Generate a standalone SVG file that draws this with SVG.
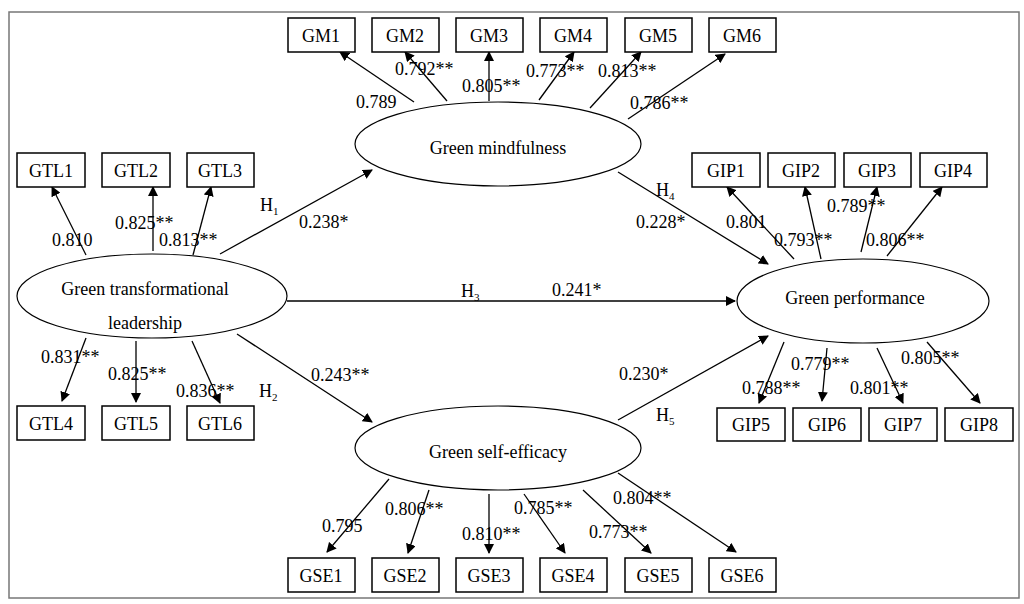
<svg xmlns="http://www.w3.org/2000/svg" width="1024" height="604" viewBox="0 0 1024 604">
<style>
text{font-family:"Liberation Serif","Times New Roman",serif;font-size:18px;fill:#000}
.b rect{fill:#fff;stroke:#000;stroke-width:1.5}
.b text{text-anchor:middle}
.e ellipse{fill:#fff;stroke:#000;stroke-width:1.2}
.e text{text-anchor:middle}
#c line{stroke:#000;stroke-width:1.3;marker-end:url(#a)}
.s{font-size:11px}
</style>
<defs><marker id="a" markerWidth="10" markerHeight="10" refX="9" refY="5" orient="auto" markerUnits="userSpaceOnUse"><path d="M0,0 L10,5 L0,10 Z"/></marker></defs>
<rect width="1024" height="604" fill="#fff"/>
<rect x="9" y="12" width="1010" height="586" fill="none" stroke="#777" stroke-width="1.5"/>
<g id="c">
<line x1="86" y1="255" x2="52" y2="187"/><line x1="153" y1="251" x2="153" y2="187"/><line x1="193" y1="255" x2="211" y2="187"/>
<line x1="220" y1="254" x2="372" y2="170"/>
<line x1="414" y1="102" x2="340" y2="52"/><line x1="447" y1="101" x2="405" y2="52"/><line x1="489" y1="101" x2="489" y2="52"/><line x1="539" y1="100" x2="574" y2="52"/><line x1="590" y1="108" x2="641" y2="52"/><line x1="628" y1="119" x2="725" y2="54"/>
<line x1="618" y1="172" x2="768" y2="264"/>
<line x1="794" y1="259" x2="727" y2="187"/><line x1="821" y1="259" x2="805" y2="187"/><line x1="861" y1="252" x2="877" y2="187"/><line x1="887" y1="256" x2="942" y2="187"/>
<line x1="287" y1="301" x2="735" y2="301"/>
<line x1="86" y1="338" x2="62" y2="401"/><line x1="136" y1="341" x2="136" y2="402"/><line x1="192" y1="341" x2="220" y2="403"/>
<line x1="237" y1="334" x2="372" y2="422"/>
<line x1="389" y1="479" x2="327" y2="552"/><line x1="429" y1="490" x2="408" y2="553"/><line x1="489" y1="494" x2="489" y2="553"/><line x1="524" y1="494" x2="565" y2="553"/><line x1="583" y1="490" x2="651" y2="553"/><line x1="618" y1="473" x2="736" y2="552"/>
<line x1="618" y1="420" x2="768" y2="336"/>
<line x1="784" y1="342" x2="759" y2="403"/><line x1="827" y1="348" x2="822" y2="401"/><line x1="877" y1="348" x2="903" y2="403"/><line x1="927" y1="342" x2="980" y2="403"/>
</g>
<g class="e">
<g id="GTL"><ellipse cx="152" cy="296" rx="135" ry="42"/><text x="145" y="295">Green transformational</text><text x="145" y="329">leadership</text></g>
<g id="GMF"><ellipse cx="498" cy="144" rx="143" ry="42"/><text x="498" y="154">Green mindfulness</text></g>
<g id="GSEF"><ellipse cx="498" cy="448" rx="143" ry="42"/><text x="498" y="458">Green self-efficacy</text></g>
<g id="GP"><ellipse cx="863" cy="301" rx="126" ry="42"/><text x="855" y="304">Green performance</text></g>
</g>
<g class="b">
<g id="GM1"><rect x="288" y="18" width="67" height="34"/><text x="321" y="42">GM1</text></g>
<g id="GM2"><rect x="372" y="18" width="67" height="34"/><text x="405" y="42">GM2</text></g>
<g id="GM3"><rect x="456" y="18" width="67" height="34"/><text x="489" y="42">GM3</text></g>
<g id="GM4"><rect x="540" y="18" width="67" height="34"/><text x="573" y="42">GM4</text></g>
<g id="GM5"><rect x="625" y="18" width="67" height="34"/><text x="658" y="42">GM5</text></g>
<g id="GM6"><rect x="709" y="18" width="67" height="34"/><text x="742" y="42">GM6</text></g>
<g id="GTL1"><rect x="17" y="153" width="68" height="34"/><text x="51" y="177">GTL1</text></g>
<g id="GTL2"><rect x="102" y="153" width="68" height="34"/><text x="136" y="177">GTL2</text></g>
<g id="GTL3"><rect x="187" y="153" width="67" height="34"/><text x="220" y="177">GTL3</text></g>
<g id="GTL4"><rect x="17" y="406" width="68" height="34"/><text x="51" y="430">GTL4</text></g>
<g id="GTL5"><rect x="102" y="406" width="68" height="34"/><text x="136" y="430">GTL5</text></g>
<g id="GTL6"><rect x="187" y="406" width="67" height="34"/><text x="220" y="430">GTL6</text></g>
<g id="GSE1"><rect x="288" y="558" width="67" height="34"/><text x="321" y="582">GSE1</text></g>
<g id="GSE2"><rect x="372" y="558" width="67" height="34"/><text x="405" y="582">GSE2</text></g>
<g id="GSE3"><rect x="456" y="558" width="67" height="34"/><text x="489" y="582">GSE3</text></g>
<g id="GSE4"><rect x="540" y="558" width="67" height="34"/><text x="573" y="582">GSE4</text></g>
<g id="GSE5"><rect x="625" y="558" width="67" height="34"/><text x="658" y="582">GSE5</text></g>
<g id="GSE6"><rect x="709" y="558" width="67" height="34"/><text x="742" y="582">GSE6</text></g>
<g id="GIP1"><rect x="692" y="153" width="68" height="34"/><text x="726" y="177">GIP1</text></g>
<g id="GIP2"><rect x="768" y="153" width="67" height="34"/><text x="801" y="177">GIP2</text></g>
<g id="GIP3"><rect x="844" y="153" width="67" height="34"/><text x="877" y="177">GIP3</text></g>
<g id="GIP4"><rect x="920" y="153" width="67" height="34"/><text x="953" y="177">GIP4</text></g>
<g id="GIP5"><rect x="717" y="408" width="68" height="33"/><text x="751" y="431">GIP5</text></g>
<g id="GIP6"><rect x="793" y="408" width="68" height="33"/><text x="827" y="431">GIP6</text></g>
<g id="GIP7"><rect x="869" y="408" width="68" height="33"/><text x="903" y="431">GIP7</text></g>
<g id="GIP8"><rect x="945" y="408" width="68" height="33"/><text x="979" y="431">GIP8</text></g>
</g>
<g id="labels">
<text x="356" y="108">0.789</text><text x="395" y="75">0.792**</text><text x="462" y="92">0.805**</text><text x="526" y="77">0.773**</text><text x="598" y="77">0.813**</text><text x="630" y="109">0.786**</text>
<text x="52" y="246">0.810</text><text x="115" y="229">0.825**</text><text x="159" y="246">0.813**</text>
<text x="260" y="211">H<tspan class="s" dy="4">1</tspan></text><text x="299" y="228">0.238*</text>
<text x="656" y="196">H<tspan class="s" dy="4">4</tspan></text><text x="636" y="228">0.228*</text>
<text x="726" y="228">0.801</text><text x="774" y="246">0.793**</text><text x="827" y="212">0.789**</text><text x="866" y="246">0.806**</text>
<text x="461" y="297">H<tspan class="s" dy="4">3</tspan></text><text x="552" y="296">0.241*</text>
<text x="41" y="363">0.831**</text><text x="108" y="380">0.825**</text><text x="176" y="397">0.836**</text>
<text x="259" y="397">H<tspan class="s" dy="4">2</tspan></text><text x="311" y="381">0.243**</text>
<text x="619" y="380">0.230*</text><text x="656" y="421">H<tspan class="s" dy="4">5</tspan></text>
<text x="742" y="394">0.788**</text><text x="791" y="370">0.779**</text><text x="850" y="394">0.801**</text><text x="901" y="364">0.805**</text>
<text x="322" y="532">0.795</text><text x="385" y="515">0.806**</text><text x="462" y="540">0.810**</text><text x="514" y="514">0.785**</text><text x="589" y="538">0.773**</text><text x="613" y="504">0.804**</text>
</g>
</svg>
